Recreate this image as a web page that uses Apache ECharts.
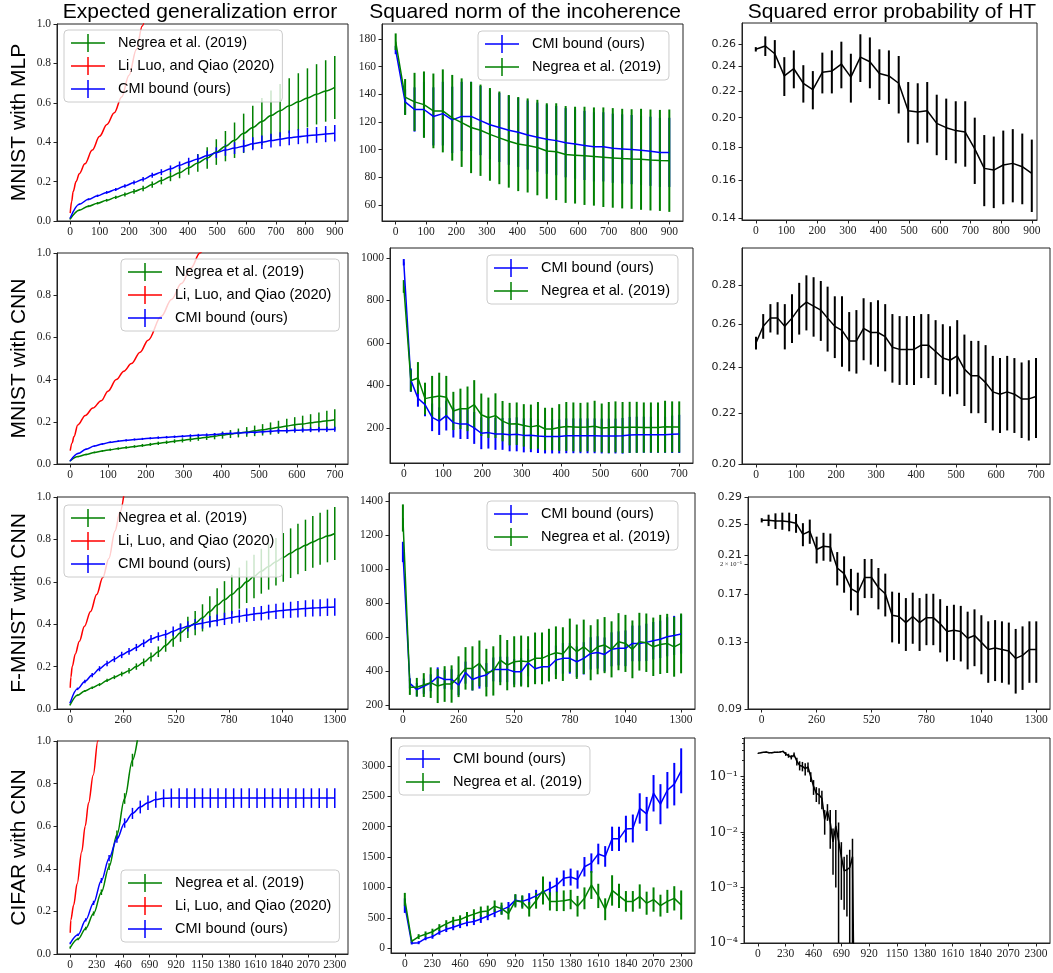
<!DOCTYPE html>
<html><head><meta charset="utf-8">
<script src="https://cdn.jsdelivr.net/npm/echarts@6/dist/echarts.min.js"></script>
<style>html,body{margin:0;padding:0;background:#fff}#c{width:1053px;height:973px}</style>
</head><body><div id="c"></div>
<script>
// ================= DATA =================
const colTitles = ['Expected generalization error', 'Squared norm of the incoherence', 'Squared error probability of HT'];
const rowTitles = ['MNIST with MLP', 'MNIST with CNN', 'F-MNIST with CNN', 'CIFAR with CNN'];
const NEGREA = 'Negrea et al. (2019)', LI = 'Li, Luo, and Qiao (2020)', CMI = 'CMI bound (ours)';

const xTicks900 = [0,100,200,300,400,500,600,700,800,900];
const xTicks700 = [0,100,200,300,400,500,600,700];
const xTicks1300 = [0,260,520,780,1040,1300];
const xTicks2300 = [0,230,460,690,920,1150,1380,1610,1840,2070,2300];
const yTicksGen = [0,0.2,0.4,0.6,0.8,1.0];
const yTicks12 = [60,80,100,120,140,160,180];
const yTicks22 = [200,400,600,800,1000];
const yTicks32 = [200,400,600,800,1000,1200,1400];
const yTicks42 = [0,500,1000,1500,2000,2500,3000];
const yTicks13 = [0.14,0.16,0.18,0.20,0.22,0.24,0.26];
const yTicks23 = [0.20,0.22,0.24,0.26,0.28];
const yTicks33 = [0.09,0.13,0.17,0.20,0.21,0.25,0.29];
const yTicks43 = [0.0001,0.001,0.01,0.1];
const yMinor43 = [0.0002,0.0003,0.0004,0.0005,0.0006,0.0007,0.0008,0.0009,0.002,0.003,0.004,0.005,0.006,0.007,0.008,0.009,0.02,0.03,0.04,0.05,0.06,0.07,0.08,0.09,0.2,0.3,0.4,0.5];

// --- MNIST with MLP ---
const p11_x = [0,31,62,93,124,155,186,217,248,279,310,341,372,403,434,466,497,528,559,590,621,652,683,714,745,776,807,838,869,900];
const p11_negrea = [0.01,0.055,0.075,0.09,0.105,0.12,0.135,0.15,0.165,0.185,0.205,0.225,0.245,0.27,0.295,0.32,0.35,0.38,0.41,0.445,0.475,0.505,0.535,0.56,0.585,0.605,0.625,0.643,0.66,0.678];
const p11_negreaErr = [0.003,0.004,0.005,0.006,0.007,0.008,0.01,0.012,0.014,0.016,0.019,0.023,0.028,0.035,0.045,0.055,0.065,0.077,0.09,0.1,0.11,0.12,0.128,0.135,0.14,0.145,0.15,0.153,0.156,0.16];
const p11_li_x = [0,5,10,20,31,50,75,100,125,150,175,200,225,245,260];
const p11_li = [0.04,0.1,0.15,0.2,0.24,0.29,0.36,0.43,0.49,0.55,0.63,0.74,0.87,0.99,1.08];
const p11_cmi = [0.015,0.085,0.11,0.128,0.145,0.16,0.178,0.195,0.212,0.232,0.248,0.265,0.283,0.3,0.315,0.332,0.347,0.36,0.37,0.38,0.392,0.4,0.408,0.415,0.422,0.428,0.433,0.437,0.441,0.445];
const p11_cmiErr = [0.003,0.004,0.005,0.006,0.007,0.008,0.009,0.01,0.011,0.013,0.015,0.017,0.019,0.021,0.023,0.025,0.027,0.029,0.03,0.032,0.033,0.034,0.035,0.036,0.037,0.038,0.039,0.04,0.041,0.042];

const p12_x = [0,31,62,93,124,155,186,217,248,279,310,341,372,403,434,466,497,528,559,590,621,652,683,714,745,776,807,838,869,900];
const p12_cmi = [172,134.5,129,129,124,126,121.5,124,124,121,118,116,114,112.5,110.5,109,107.5,106.5,105,104,103,102,102,101,100.5,100,99.5,98.8,98,98];
const p12_cmiErr = [3,9,16,20,21,23,24,25,25,25,25,25,25,25,25,25,25,25,25,25,25,25,25,25,25,25,25,25,25,25];
const p12_negrea = [178,138,134.5,132.5,128,128,123,119.5,116,114,111,108.5,106,104,103,101.5,99,98.5,96.5,96,95.5,95,94.5,94,93.5,93.2,93,92.5,92.2,92];
const p12_negreaErr = [6,13,21,24,27,30,31,32,33,33,33.5,33.5,33.5,34,34,34.5,34.5,35,35,35,35.5,35.5,36,36,36,36,36.5,36.5,36.5,37];

const p13_x = [0,31,62,93,124,155,186,217,248,279,310,341,372,403,434,466,497,528,559,590,621,652,683,714,745,776,807,838,869,900];
const p13_val = [0.255,0.258,0.251,0.232,0.238,0.226,0.221,0.235,0.236,0.242,0.231,0.248,0.244,0.234,0.232,0.226,0.205,0.204,0.205,0.196,0.193,0.191,0.190,0.179,0.167,0.166,0.169,0.170,0.168,0.164];
const p13_err = [0.002,0.009,0.0125,0.016,0.016,0.015,0.015,0.017,0.018,0.02,0.02,0.021,0.022,0.021,0.022,0.023,0.022,0.022,0.022,0.021,0.021,0.021,0.022,0.021,0.021,0.021,0.022,0.022,0.021,0.021];

// --- MNIST with CNN ---
const p21_x = [0,21,42,64,85,106,127,148,170,191,212,233,255,276,297,318,339,361,382,403,424,445,467,488,509,530,551,573,594,615,636,658,679,700];
const p21_negrea = [0.015,0.035,0.045,0.055,0.062,0.068,0.073,0.078,0.083,0.088,0.093,0.098,0.103,0.108,0.112,0.117,0.122,0.127,0.132,0.137,0.142,0.147,0.152,0.157,0.162,0.168,0.174,0.18,0.186,0.19,0.195,0.2,0.205,0.21];
const p21_negreaErr = [0.002,0.003,0.003,0.004,0.004,0.005,0.005,0.006,0.006,0.007,0.007,0.008,0.008,0.009,0.01,0.011,0.012,0.013,0.015,0.017,0.019,0.021,0.023,0.025,0.027,0.029,0.031,0.034,0.036,0.039,0.041,0.044,0.047,0.05];
const p21_li_x = [0,5,10,20,40,60,82,100,122,142,162,185,206,241,268,294,320,343,360];
const p21_li = [0.063,0.1,0.13,0.185,0.23,0.265,0.3,0.345,0.4,0.44,0.476,0.53,0.587,0.7,0.78,0.855,0.93,1.0,1.05];
const p21_cmi = [0.015,0.05,0.07,0.085,0.095,0.103,0.108,0.112,0.116,0.119,0.122,0.125,0.127,0.129,0.131,0.134,0.136,0.138,0.14,0.143,0.145,0.147,0.149,0.151,0.153,0.155,0.157,0.158,0.16,0.161,0.162,0.163,0.164,0.165];
const p21_cmiErr = [0.002,0.003,0.003,0.003,0.004,0.004,0.004,0.005,0.005,0.005,0.005,0.006,0.006,0.006,0.006,0.007,0.007,0.007,0.007,0.008,0.008,0.008,0.009,0.009,0.009,0.01,0.01,0.01,0.011,0.011,0.011,0.012,0.012,0.012];

const p22_x = [0,18,36,54,72,90,108,126,144,162,179,197,215,233,251,269,287,305,323,341,359,377,395,413,431,449,467,485,503,521,538,556,574,592,610,628,646,664,682,700];
const p22_cmi = [980,425,340,310,250,232,258,225,218,218,200,175,178,172,172,168,170,165,166,162,160,160,160,163,163,163,163,163,162,162,162,163,167,168,168,168,168,168,170,172];
const p22_cmiErr = [15,55,40,55,65,65,70,70,70,70,75,75,75,75,75,78,80,80,80,80,80,80,80,82,82,82,82,82,82,82,82,84,85,85,85,85,85,85,88,90];
const p22_negrea = [866,422,435,338,345,350,345,280,290,290,310,262,248,258,232,218,220,212,205,212,195,195,202,207,205,203,205,208,200,202,205,202,203,203,202,202,202,206,205,205];
const p22_negreaErr = [30,50,75,75,100,110,100,90,95,105,115,100,95,105,95,100,100,100,105,110,100,100,110,115,115,115,115,120,115,120,120,120,120,120,118,118,118,122,120,120];

const p23_x = [0,18,36,54,72,90,108,126,144,162,179,197,215,233,251,269,287,305,323,341,359,377,395,413,431,449,467,485,503,521,538,556,574,592,610,628,646,664,682,700];
const p23_val = [0.251,0.259,0.263,0.263,0.259,0.263,0.268,0.271,0.269,0.267,0.263,0.259,0.257,0.252,0.252,0.258,0.256,0.256,0.254,0.249,0.248,0.248,0.248,0.250,0.250,0.247,0.244,0.243,0.245,0.239,0.236,0.236,0.233,0.229,0.228,0.229,0.228,0.226,0.226,0.227];
const p23_err = [0.003,0.006,0.007,0.008,0.011,0.012,0.013,0.014,0.015,0.015,0.016,0.015,0.017,0.014,0.015,0.015,0.015,0.016,0.016,0.016,0.016,0.016,0.016,0.015,0.015,0.015,0.016,0.016,0.017,0.016,0.016,0.016,0.017,0.016,0.016,0.016,0.016,0.016,0.017,0.017];

// --- F-MNIST with CNN ---
const p31_x = [0,36,72,108,144,181,217,253,289,325,361,397,433,469,506,542,578,614,650,686,722,758,794,831,867,903,939,975,1011,1047,1083,1119,1156,1192,1228,1264,1300];
const p31_negrea = [0.02,0.065,0.085,0.1,0.115,0.135,0.15,0.165,0.18,0.2,0.22,0.245,0.27,0.3,0.33,0.36,0.385,0.405,0.43,0.46,0.49,0.515,0.54,0.57,0.6,0.625,0.65,0.672,0.695,0.715,0.735,0.755,0.772,0.788,0.803,0.816,0.828];
const p31_negreaErr = [0.003,0.004,0.005,0.006,0.007,0.008,0.009,0.011,0.013,0.015,0.018,0.021,0.025,0.03,0.036,0.043,0.05,0.057,0.064,0.072,0.08,0.088,0.093,0.097,0.1,0.103,0.106,0.109,0.112,0.115,0.117,0.119,0.121,0.122,0.123,0.124,0.125];
const p31_li_x = [0,3,10,25,45,70,100,130,160,190,220,245,265];
const p31_li = [0.1,0.15,0.2,0.26,0.32,0.39,0.46,0.54,0.62,0.71,0.84,0.93,1.02];
const p31_cmi = [0.03,0.095,0.13,0.16,0.19,0.215,0.235,0.255,0.272,0.29,0.31,0.33,0.342,0.352,0.367,0.38,0.39,0.4,0.405,0.412,0.418,0.425,0.432,0.438,0.443,0.448,0.452,0.457,0.461,0.465,0.468,0.471,0.474,0.476,0.478,0.48,0.481];
const p31_cmiErr = [0.004,0.006,0.008,0.01,0.012,0.013,0.014,0.015,0.016,0.017,0.018,0.019,0.02,0.021,0.022,0.023,0.024,0.025,0.026,0.027,0.028,0.029,0.03,0.031,0.032,0.033,0.034,0.035,0.036,0.037,0.038,0.039,0.039,0.04,0.04,0.041,0.041];

const p32_x = [0,32.5,65,97.5,130,162.5,195,227.5,260,292.5,325,357.5,390,422.5,455,487.5,520,552.5,585,617.5,650,682.5,715,747.5,780,812.5,845,877.5,910,942.5,975,1007.5,1040,1072.5,1105,1137.5,1170,1202.5,1235,1267.5,1300];
const p32_cmi = [1100,327,290,310,330,366,350,350,317,390,350,366,376,409,409,409,395,395,448,413,425,425,464,474,474,454,474,503,509,497,527,533,533,562,562,568,578,586,601,609,617];
const p32_cmiErr = [60,30,40,45,50,55,55,60,60,65,65,70,70,70,75,75,75,80,80,80,85,85,85,90,90,90,95,95,95,100,100,100,105,105,105,110,110,110,115,115,115];
const p32_negrea = [1300,304,304,317,331,311,323,323,366,415,415,444,390,400,464,434,454,458,454,474,474,493,507,499,550,513,542,507,542,552,527,572,562,527,572,566,542,556,562,542,562];
const p32_negreaErr = [80,45,55,70,90,100,105,110,120,125,130,135,140,145,148,148,150,150,150,152,152,155,155,158,158,160,160,162,162,165,165,168,168,170,170,172,172,174,174,176,176];

const p33_x = [0,32.5,65,97.5,130,162.5,195,227.5,260,292.5,325,357.5,390,422.5,455,487.5,520,552.5,585,617.5,650,682.5,715,747.5,780,812.5,845,877.5,910,942.5,975,1007.5,1040,1072.5,1105,1137.5,1170,1202.5,1235,1267.5,1300];
const p33_val = [0.255,0.255,0.254,0.254,0.253,0.251,0.236,0.240,0.217,0.221,0.220,0.196,0.190,0.175,0.171,0.186,0.186,0.176,0.170,0.151,0.150,0.145,0.150,0.145,0.149,0.149,0.144,0.138,0.139,0.138,0.133,0.135,0.130,0.125,0.126,0.125,0.124,0.119,0.121,0.125,0.125];
const p33_err = [0.003,0.008,0.011,0.012,0.013,0.013,0.015,0.016,0.016,0.017,0.017,0.018,0.019,0.02,0.02,0.02,0.02,0.02,0.02,0.021,0.021,0.021,0.021,0.021,0.021,0.021,0.021,0.021,0.021,0.021,0.021,0.021,0.021,0.021,0.021,0.021,0.021,0.021,0.021,0.021,0.021];

// --- CIFAR with CNN ---
const p41_x = [0,68,135,203,271,338,406,473,541,609,676,744,812,879,947,1015,1082,1150,1218,1285,1353,1421,1488,1556,1624,1691,1759,1826,1894,1962,2029,2097,2165,2232,2300];
const p41_negrea = [0.03,0.07,0.12,0.19,0.29,0.41,0.56,0.73,0.91,1.1];
const p41_negreaErr = [0.005,0.006,0.008,0.01,0.013,0.016,0.02,0.025,0.03,0.035];
const p41_li_x = [0,5,30,60,100,130,160,200,240,260];
const p41_li = [0.1,0.16,0.23,0.33,0.48,0.6,0.71,0.84,1.0,1.07];
const p41_cmi = [0.05,0.09,0.16,0.24,0.345,0.45,0.54,0.615,0.66,0.69,0.71,0.725,0.731,0.732,0.732,0.732,0.732,0.732,0.732,0.732,0.732,0.732,0.732,0.732,0.732,0.732,0.732,0.732,0.732,0.732,0.732,0.732,0.732,0.732,0.732];
const p41_cmiErr = [0.004,0.006,0.008,0.01,0.012,0.015,0.018,0.022,0.026,0.03,0.034,0.038,0.042,0.045,0.046,0.046,0.046,0.046,0.046,0.046,0.046,0.046,0.046,0.046,0.046,0.046,0.046,0.046,0.046,0.046,0.046,0.046,0.046,0.046,0.046];

const p42_x = [0,57.5,115,172.5,230,287.5,345,402.5,460,517.5,575,632.5,690,747.5,805,862.5,920,977.5,1035,1092.5,1150,1207.5,1265,1322.5,1380,1437.5,1495,1552.5,1610,1667.5,1725,1782.5,1840,1897.5,1955,2012.5,2070,2127.5,2185,2242.5,2300];
const p42_cmi = [700,80,90,160,190,260,310,345,385,420,440,480,530,580,630,680,790,770,810,860,925,980,1040,1150,1170,1130,1340,1400,1550,1510,1800,1800,1960,1970,2300,2210,2550,2370,2600,2700,2920];
const p42_cmiErr = [120,20,25,30,35,40,45,50,55,60,60,65,70,70,75,80,90,90,95,100,110,115,120,130,140,150,160,160,170,170,200,200,220,230,250,280,300,330,300,350,370];
const p42_negrea = [800,110,190,230,270,340,400,450,470,520,560,600,610,690,650,570,780,760,640,780,950,770,770,780,800,690,820,1040,860,640,950,860,770,770,850,740,800,700,770,820,710];
const p42_negreaErr = [110,30,40,45,50,55,60,65,70,75,80,85,90,95,100,100,110,110,120,130,230,150,160,170,160,170,180,230,200,180,250,200,170,170,200,190,200,180,190,200,240];

const p43_x = [0,23,46,69,92,115,138,161,184,207,230,253,276,299,322,345,368,391,414,437,460,483,506,529,552,575,598,621,644,667,690,713,736,759,782,805];
const p43_val = [0.265,0.27,0.276,0.28,0.27,0.27,0.276,0.276,0.28,0.287,0.258,0.24,0.225,0.25,0.19,0.16,0.155,0.14,0.15,0.1,0.067,0.05,0.047,0.041,0.017,0.024,0.015,0.0067,0.013,0.007,0.0036,0.002,0.0021,0.0023,0.0036,0];
const p43_err = [0.003,0.004,0.004,0.004,0.005,0.005,0.006,0.006,0.007,0.008,0.02,0.02,0.02,0.025,0.03,0.03,0.03,0.035,0.03,0.02,0.02,0.015,0.015,0.015,0.008,0.008,0.01,0.005,0.012,0.008,0.003,0.0016,0.0018,0.0025,0.004,0];

// ================= BUILD =================
const GREEN = '#008000', RED = '#ff0000', BLUE = '#0000ff', BLACK = '#000000', AX = '#222222';
const SERIF = '"Liberation Serif", "DejaVu Serif", serif';
const SANS = '"Liberation Sans", Arial, sans-serif';
const DSANS = '"DejaVu Sans", sans-serif';
const ICON = 'path://M0,8.25 L34,8.25 L34,9.75 L0,9.75 Z M16.25,0 L17.75,0 L17.75,18 L16.25,18 Z';

const grids = [], xAxes = [], yAxes = [], series = [], legends = [], graphics = [];

function supStr(n) {
  const m = {'-':'\u207B','0':'\u2070','1':'\u00B9','2':'\u00B2','3':'\u00B3','4':'\u2074','5':'\u2075','6':'\u2076','7':'\u2077','8':'\u2078','9':'\u2079'};
  return String(n).split('').map(c => m[c]).join('');
}

function addPanel(p) {
  const gi = grids.length;
  const tr = p.log ? (v => v > 0 ? Math.log10(v) : Math.log10(p.yr[0]) - 3) : (v => v);
  grids.push({left: p.rect[0], top: p.rect[1], width: p.rect[2], height: p.rect[3],
    show: true, borderColor: AX, borderWidth: 1, backgroundColor: 'transparent'});
  xAxes.push({type: 'value', gridIndex: gi, min: p.xr[0], max: p.xr[1], position: 'bottom',
    axisLine: {show: true, onZero: false, lineStyle: {color: AX, width: 1}},
    splitLine: {show: false},
    axisTick: {show: true, length: 3.5, lineStyle: {color: AX}, customValues: p.xt},
    axisLabel: {show: true, customValues: p.xt, margin: 5, fontFamily: SERIF, fontSize: 11.5, color: AX,
      formatter: v => String(Math.round(v))}});
  yAxes.push({type: 'value', gridIndex: gi, min: tr(p.yr[0]), max: tr(p.yr[1]), position: 'left',
    axisLine: {show: true, onZero: false, lineStyle: {color: AX, width: 1}},
    splitLine: {show: false},
    axisTick: {show: true, length: 3.5, lineStyle: {color: AX}, customValues: p.yt.map(tr)},
    axisLabel: {show: true, customValues: p.yt.map(tr), margin: 6, fontFamily: p.yfont || SERIF,
      fontSize: p.yfs || 11.5, color: AX, formatter: p.yfmt, rich: p.rich || {}}});
  const yi = yAxes.length - 1;
  if (p.minor) {
    yAxes.push({type: 'value', gridIndex: gi, min: tr(p.yr[0]), max: tr(p.yr[1]), position: 'left',
      axisLine: {show: false, onZero: false}, splitLine: {show: false}, axisLabel: {show: false},
      axisTick: {show: true, length: 2, lineStyle: {color: AX}, customValues: p.minor.map(tr)}});
  }
  return {gi, yi, tr};
}

function addLine(P, name, xs, ys, color, width, smooth) {
  series.push({type: 'line', name: name, xAxisIndex: P.gi, yAxisIndex: P.yi,
    data: xs.slice(0, ys.length).map((x, i) => [x, P.tr(ys[i])]),
    symbol: 'none', showSymbol: false, smooth: smooth ? 0.35 : false, smoothMonotone: smooth ? 'x' : undefined,
    lineStyle: {color: color, width: width}, itemStyle: {color: color},
    clip: true, silent: true, animation: false, z: 2});
}

function addBars(P, xs, ys, es, color, width) {
  series.push({type: 'custom', xAxisIndex: P.gi, yAxisIndex: P.yi, clip: true, silent: true, animation: false, z: 2,
    data: xs.slice(0, ys.length).map((x, i) => [x, P.tr(ys[i] - es[i]), P.tr(ys[i] + es[i])]),
    encode: {x: 0, y: [1, 2]},
    renderItem: function (params, api) {
      const a = api.coord([api.value(0), api.value(1)]);
      const b = api.coord([api.value(0), api.value(2)]);
      return {type: 'line', shape: {x1: a[0], y1: a[1], x2: b[0], y2: b[1]},
        style: {stroke: color, lineWidth: width, fill: null}};
    }});
}

function addLegend(left, top, names) {
  legends.push({left: left, top: top, orient: 'vertical', selectedMode: false,
    data: names.map(n => ({name: n, icon: ICON})),
    itemWidth: 34, itemHeight: 18, itemGap: 5, padding: [4, 8, 4, 7],
    backgroundColor: 'rgba(255,255,255,0.8)', borderColor: '#cccccc', borderWidth: 1, borderRadius: 4,
    itemStyle: {borderWidth: 0},
    textStyle: {fontFamily: SANS, fontSize: 14.5, color: '#000', padding: [0, 0, 0, 8]}, z: 10});
}

const fmt1 = v => v.toFixed(1);
const fmtInt = v => String(Math.round(v));
const fmtLog2plain = v => Math.pow(10, v).toFixed(2);
const fmtLog33 = v => {
  const val = Math.pow(10, v);
  if (Math.abs(val - 0.2) < 1e-9) return '{s|2 \u00D7 10\u207B\u00B9}';
  return val.toFixed(2);
};
const fmtPow = v => '10' + supStr(Math.round(v));

// ---- Column 1 ----
const genRects = [[57,24,291,197],[57,253,291,211],[57,497,291,212],[57,741,291,213]];
const P11 = addPanel({rect: genRects[0], xr: [-45, 945], xt: xTicks900, yr: [0, 1], yt: yTicksGen, yfmt: fmt1});
addLine(P11, NEGREA, p11_x, p11_negrea, GREEN, 1.5, true); addBars(P11, p11_x, p11_negrea, p11_negreaErr, GREEN, 1.5);
addLine(P11, LI, p11_li_x, p11_li, RED, 1.5, true);
addLine(P11, CMI, p11_x, p11_cmi, BLUE, 1.5, true); addBars(P11, p11_x, p11_cmi, p11_cmiErr, BLUE, 1.5);
addLegend(64, 30, [NEGREA, LI, CMI]);

const P21 = addPanel({rect: genRects[1], xr: [-35, 735], xt: xTicks700, yr: [0, 1], yt: yTicksGen, yfmt: fmt1});
addLine(P21, NEGREA, p21_x, p21_negrea, GREEN, 1.5, true); addBars(P21, p21_x, p21_negrea, p21_negreaErr, GREEN, 1.5);
addLine(P21, LI, p21_li_x, p21_li, RED, 1.5, true);
addLine(P21, CMI, p21_x, p21_cmi, BLUE, 1.5, true); addBars(P21, p21_x, p21_cmi, p21_cmiErr, BLUE, 1.5);
addLegend(121, 259, [NEGREA, LI, CMI]);

const P31 = addPanel({rect: genRects[2], xr: [-65, 1365], xt: xTicks1300, yr: [0, 1], yt: yTicksGen, yfmt: fmt1});
addLine(P31, NEGREA, p31_x, p31_negrea, GREEN, 1.5, true); addBars(P31, p31_x, p31_negrea, p31_negreaErr, GREEN, 1.5);
addLine(P31, LI, p31_li_x, p31_li, RED, 1.5, true);
addLine(P31, CMI, p31_x, p31_cmi, BLUE, 1.5, true); addBars(P31, p31_x, p31_cmi, p31_cmiErr, BLUE, 1.5);
addLegend(64, 505, [NEGREA, LI, CMI]);

const P41 = addPanel({rect: genRects[3], xr: [-115, 2415], xt: xTicks2300, yr: [0, 1], yt: yTicksGen, yfmt: fmt1});
addLine(P41, NEGREA, p41_x, p41_negrea, GREEN, 1.5, true); addBars(P41, p41_x, p41_negrea, p41_negreaErr, GREEN, 1.5);
addLine(P41, LI, p41_li_x, p41_li, RED, 1.5, true);
addLine(P41, CMI, p41_x, p41_cmi, BLUE, 1.5, true); addBars(P41, p41_x, p41_cmi, p41_cmiErr, BLUE, 1.5);
addLegend(121, 870, [NEGREA, LI, CMI]);

// ---- Column 2 ----
const P12 = addPanel({rect: [382,24,301,197], xr: [-45, 945], xt: xTicks900, yr: [48.4, 190.8], yt: yTicks12, yfmt: fmtInt});
addLine(P12, CMI, p12_x, p12_cmi, BLUE, 1.5); addBars(P12, p12_x, p12_cmi, p12_cmiErr, BLUE, 2);
addLine(P12, NEGREA, p12_x, p12_negrea, GREEN, 1.5); addBars(P12, p12_x, p12_negrea, p12_negreaErr, GREEN, 2);
addLegend(478, 31, [CMI, NEGREA]);

const P22 = addPanel({rect: [390,248,303,215], xr: [-35, 735], xt: xTicks700, yr: [35, 1047], yt: yTicks22, yfmt: fmtInt});
addLine(P22, CMI, p22_x, p22_cmi, BLUE, 1.5); addBars(P22, p22_x, p22_cmi, p22_cmiErr, BLUE, 2);
addLine(P22, NEGREA, p22_x, p22_negrea, GREEN, 1.5); addBars(P22, p22_x, p22_negrea, p22_negreaErr, GREEN, 2);
addLegend(487, 255, [CMI, NEGREA]);

const P32 = addPanel({rect: [389,493,306,216], xr: [-65, 1365], xt: xTicks1300, yr: [176, 1447], yt: yTicks32, yfmt: fmtInt});
addLine(P32, CMI, p32_x, p32_cmi, BLUE, 1.5); addBars(P32, p32_x, p32_cmi, p32_cmiErr, BLUE, 2);
addLine(P32, NEGREA, p32_x, p32_negrea, GREEN, 1.5); addBars(P32, p32_x, p32_negrea, p32_negreaErr, GREEN, 2);
addLegend(487, 501, [CMI, NEGREA]);

const P42 = addPanel({rect: [391,738,304,215], xr: [-115, 2415], xt: xTicks2300, yr: [-80, 3460], yt: yTicks42, yfmt: fmtInt});
addLine(P42, CMI, p42_x, p42_cmi, BLUE, 1.5); addBars(P42, p42_x, p42_cmi, p42_cmiErr, BLUE, 2);
addLine(P42, NEGREA, p42_x, p42_negrea, GREEN, 1.5); addBars(P42, p42_x, p42_negrea, p42_negreaErr, GREEN, 2);
addLegend(399, 746, [CMI, NEGREA]);

// ---- Column 3 (log y) ----
const P13 = addPanel({rect: [742,23,295,197], xr: [-45, 917], xt: xTicks900, log: true, yr: [0.139, 0.280], yt: yTicks13, yfmt: fmtLog2plain, yfont: DSANS, yfs: 11});
addLine(P13, 'HT1', p13_x, p13_val, BLACK, 1.5); addBars(P13, p13_x, p13_val, p13_err, BLACK, 2);

const P23 = addPanel({rect: [742,248,308,216], xr: [-35, 735], xt: xTicks700, log: true, yr: [0.2, 0.3], yt: yTicks23, yfmt: fmtLog2plain, yfont: DSANS, yfs: 11});
addLine(P23, 'HT2', p23_x, p23_val, BLACK, 1.5); addBars(P23, p23_x, p23_val, p23_err, BLACK, 2);

const P33 = addPanel({rect: [748,497,302,212], xr: [-65, 1365], xt: xTicks1300, log: true, yr: [0.09, 0.29], yt: yTicks33, yfmt: fmtLog33, yfont: DSANS, yfs: 11,
  rich: {s: {fontFamily: SERIF, fontSize: 6.5, color: AX}}});
addLine(P33, 'HT3', p33_x, p33_val, BLACK, 1.5); addBars(P33, p33_x, p33_val, p33_err, BLACK, 2);

const P43 = addPanel({rect: [744,738,306,205], xr: [-115, 2415], xt: xTicks2300, log: true, yr: [0.0001, 0.5], yt: yTicks43, yfmt: fmtPow, yfont: '"DejaVu Serif", serif', yfs: 13, minor: yMinor43});
addLine(P43, 'HT4', p43_x, p43_val, BLACK, 1.5); addBars(P43, p43_x, p43_val, p43_err, BLACK, 1.5);

// ---- Titles and row labels ----
const colCenters = [200, 525, 892];
colTitles.forEach((t, i) => graphics.push({type: 'text', x: colCenters[i], y: 12, z: 100,
  style: {text: t, fontFamily: SANS, fontSize: 21, fill: '#000', align: 'center', verticalAlign: 'middle'}}));
const rowCenters = [122.5, 358.5, 603, 847.5];
rowTitles.forEach((t, i) => graphics.push({type: 'text', x: 19, y: rowCenters[i], rotation: Math.PI / 2, z: 100,
  style: {text: t, fontFamily: SANS, fontSize: 21, fill: '#000', align: 'center', verticalAlign: 'middle'}}));

const chart = echarts.init(document.getElementById('c'), null, {renderer: 'canvas'});
chart.setOption({
  animation: false,
  backgroundColor: '#ffffff',
  grid: grids, xAxis: xAxes, yAxis: yAxes, series: series, legend: legends,
  graphic: {elements: graphics}
});
</script></body></html>
